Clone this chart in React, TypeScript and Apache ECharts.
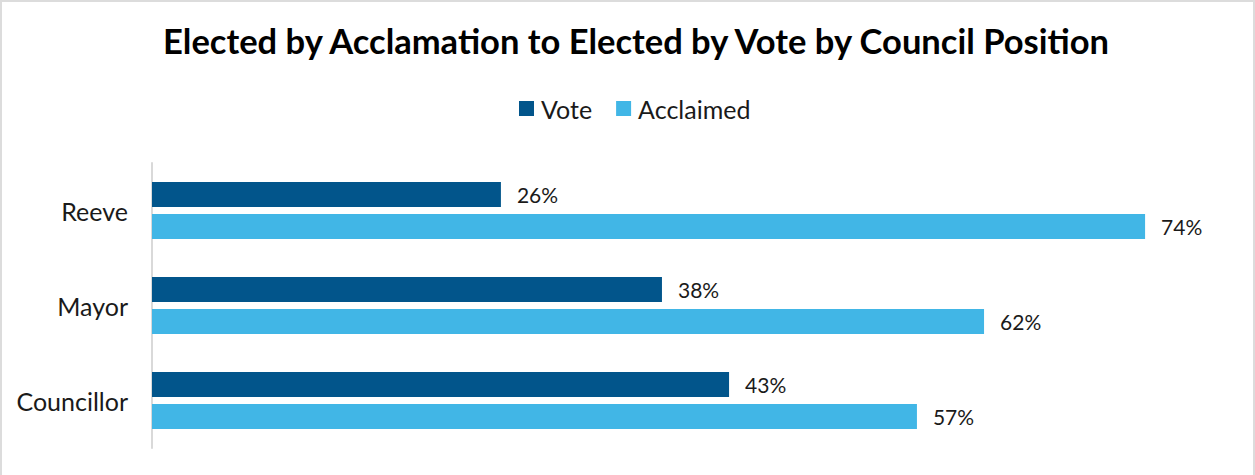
import React, { useEffect, useRef } from "react";
import * as echarts from "echarts";

const categories = ["Reeve", "Mayor", "Councillor"];
const voteValues = [26, 38, 43];
const acclaimedValues = [74, 62, 57];
const seriesNames = ["Vote", "Acclaimed"];

export default function App() {
  const ref = useRef<HTMLDivElement>(null);
  useEffect(() => {
    if (!ref.current) return;
    const chart = echarts.init(ref.current, null, { renderer: "svg" });
    const font = "Lato, 'Open Sans', sans-serif";
    const label = {
      show: true,
      position: "right",
      distance: 16,
      formatter: (p: any) => p.value + "%",
      color: "#1a1a1a",
      fontSize: 21,
      fontFamily: font,
    };
    chart.setOption({
      animation: false,
      title: {
        text: "Elected by Acclamation to Elected by Vote by Council Position",
        left: 636,
        textAlign: "center",
        top: 23,
        padding: 0,
        textStyle: { fontFamily: font, fontWeight: "bold", fontSize: 34.5, color: "#000" },
      },
      legend: {
        data: seriesNames,
        left: 519,
        top: 96,
        padding: 0,
        icon: "rect",
        itemWidth: 15,
        itemHeight: 15,
        itemGap: 24,
        textStyle: { fontFamily: font, fontSize: 25, color: "#1a1a1a", padding: [0, 0, 0, 2] },
      },
      grid: { left: 152, right: 29.4, top: 163, bottom: 27, containLabel: false },
      xAxis: {
        type: "value",
        min: 0,
        max: 80,
        show: false,
      },
      yAxis: {
        type: "category",
        data: categories,
        inverse: true,
        axisLine: { show: true, lineStyle: { color: "#d9d9d9", width: 2 } },
        axisTick: { show: false },
        axisLabel: { fontFamily: font, fontSize: 25, color: "#1a1a1a", margin: 24 },
      },
      series: [
        {
          name: seriesNames[0],
          type: "bar",
          data: voteValues,
          barWidth: 25,
          barGap: "28%",
          itemStyle: { color: "#02558B" },
          label,
        },
        {
          name: seriesNames[1],
          type: "bar",
          data: acclaimedValues,
          barWidth: 25,
          barGap: "28%",
          itemStyle: { color: "#41B6E6" },
          label,
        },
      ],
    });
    return () => chart.dispose();
  }, []);
  return (
    <div
      style={{
        position: "fixed",
        left: 0,
        top: 0,
        width: 1255,
        height: 475,
        background: "#fff",
      }}
    >
      <div ref={ref} style={{ position: "absolute", left: 0, top: 0, width: 1255, height: 475 }} />
      <div
        style={{
          position: "absolute",
          left: 0,
          top: 0,
          width: 1255,
          height: 480,
          boxSizing: "border-box",
          border: "2px solid #dcdcdc",
          pointerEvents: "none",
        }}
      />
    </div>
  );
}
